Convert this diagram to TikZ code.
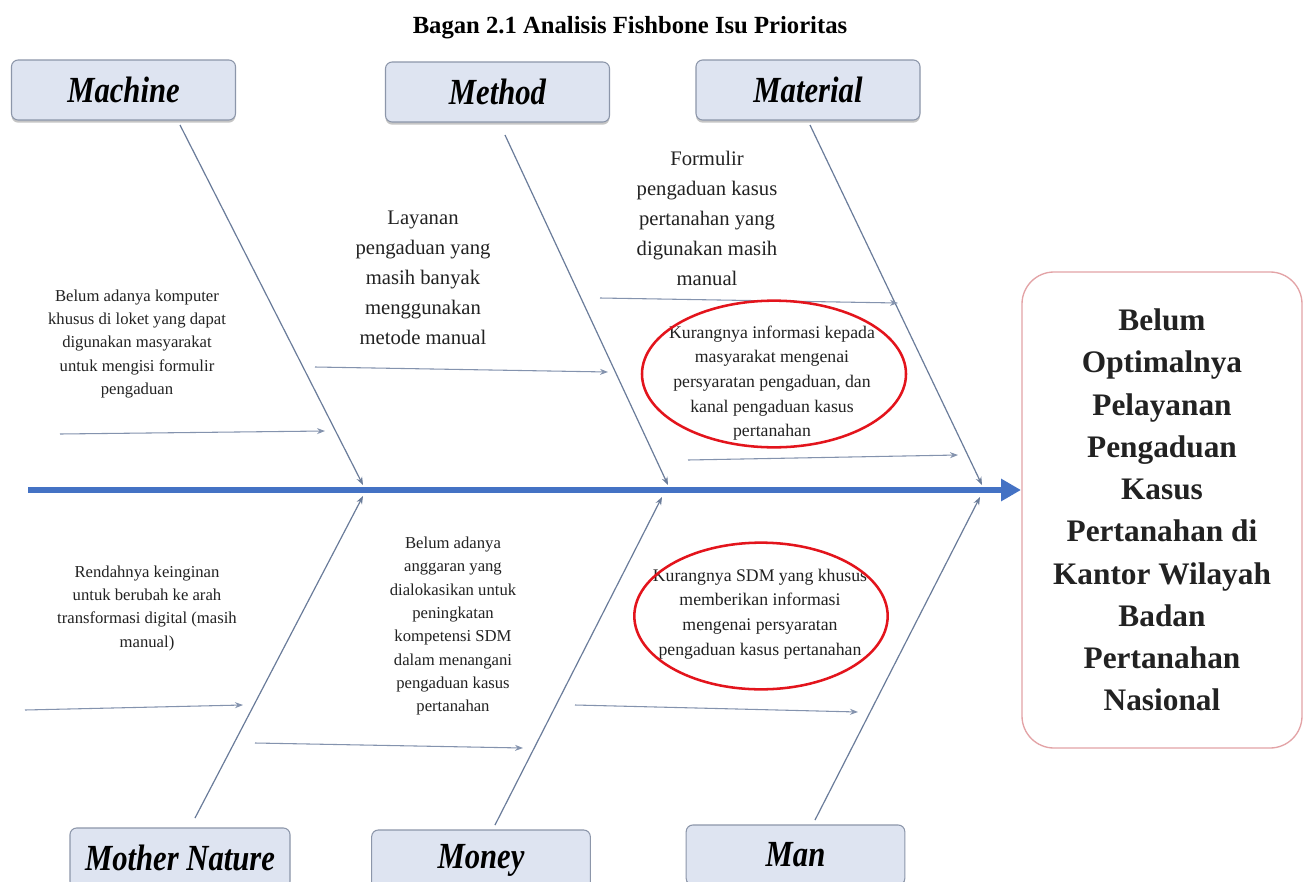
\documentclass[tikz,border=0pt]{standalone}
\usepackage{fontspec}
\setmainfont{Liberation Serif}
\usepackage{graphicx}
\usetikzlibrary{arrows.meta,shadows,shapes.geometric}
\definecolor{boxfill}{HTML}{DEE4F1}
\definecolor{boxline}{HTML}{8C96AA}
\definecolor{spine}{HTML}{4472C4}
\definecolor{bone}{HTML}{6A7C9A}
\definecolor{subarrow}{HTML}{8493AE}
\definecolor{effline}{HTML}{E3A3A6}
\definecolor{ringred}{HTML}{E3141C}
\definecolor{txt}{HTML}{222222}
\tikzset{
  catbox/.style={draw=boxline, line width=0.8pt, fill=boxfill, rounded corners=5pt,
    minimum width=168pt, minimum height=45pt, inner sep=0pt,
    drop shadow={shadow xshift=0pt, shadow yshift=-2pt, opacity=0.45, fill=gray},
    font=\fontsize{23}{26}\selectfont\bfseries\itshape},
  bonearrow/.style={draw=bone, line width=0.9pt, -{Stealth[length=6pt,width=4.5pt]}},
  subarr/.style={draw=subarrow, line width=0.8pt, -{Stealth[length=6pt,width=4.5pt]}},
  smalltxt/.style={align=center, text=txt, inner sep=0pt, font=\fontsize{12.5}{17.5}\selectfont},
  ringtxt/.style={align=center, text=txt, inner sep=0pt, font=\fontsize{13.3}{18.5}\selectfont},
  bigtxt/.style={align=center, text=txt, inner sep=0pt, font=\fontsize{15.5}{22.5}\selectfont},
  ring/.style={draw=ringred, line width=1.9pt, ellipse, inner sep=0pt}
}
\newcommand{\tall}[1]{\scalebox{1}[1.2]{#1}}
\begin{document}
\begin{tikzpicture}[x=0.75pt,y=-0.75pt]
\useasboundingbox (0,0) rectangle (1304,882);
\fill[white] (0,0) rectangle (1304,882);

% title
\node[font=\fontsize{18.5}{22}\selectfont\bfseries] (title) at (630,28) {Bagan 2.1 Analisis Fishbone Isu Prioritas};

% effect box
\node[draw=effline, line width=1pt, rounded corners=24pt, minimum width=210pt, minimum height=357pt,
  align=center, font=\fontsize{23.5}{31.7}\selectfont\bfseries, text=txt] (effect) at (1162,510)
  {Belum\\Optimalnya\\Pelayanan\\Pengaduan\\Kasus\\Pertanahan di\\Kantor Wilayah\\Badan\\Pertanahan\\Nasional};

% spine
\coordinate (tail) at (28,490);
\coordinate (head) at (1021,490);
\draw[spine, line width=4.6pt, -{Triangle[length=15pt,width=16pt]}] (tail) -- (head);

% category boxes
\node[catbox] (machine) at (123.5,90) {\tall{Machine}};
\node[catbox] (method) at (497.5,92) {\tall{Method}};
\node[catbox] (material) at (808,90) {\tall{Material}};
\node[catbox, minimum width=165pt] (nature) at (180,858) {\tall{Mother Nature}};
\node[catbox, minimum width=164pt] (money) at (481,860) {\tall{Money}};
\node[catbox, minimum width=164pt] (man) at (795.5,855) {\tall{Man}};

% bone coordinates
\coordinate (b1s) at (180,125);  \coordinate (b1e) at (363,485);
\coordinate (b2s) at (505,135);  \coordinate (b2e) at (668,485);
\coordinate (b3s) at (810,125);  \coordinate (b3e) at (982,485);
\coordinate (b4s) at (195,818);  \coordinate (b4e) at (363,496);
\coordinate (b5s) at (495,825);  \coordinate (b5e) at (662,497);
\coordinate (b6s) at (815,820);  \coordinate (b6e) at (980,497);
\draw[bonearrow] (b1s) -- (b1e);
\draw[bonearrow] (b2s) -- (b2e);
\draw[bonearrow] (b3s) -- (b3e);
\draw[bonearrow] (b4s) -- (b4e);
\draw[bonearrow] (b5s) -- (b5e);
\draw[bonearrow] (b6s) -- (b6e);

% sub arrows
\coordinate (s1s) at (60,434);   \coordinate (s1e) at (325,431);
\coordinate (s2s) at (315,367);  \coordinate (s2e) at (608,372);
\coordinate (s3s) at (600,298);  \coordinate (s3e) at (898,303);
\coordinate (s4s) at (688,460);  \coordinate (s4e) at (958,455);
\coordinate (s5s) at (25,710);   \coordinate (s5e) at (243,705);
\coordinate (s6s) at (255,743);  \coordinate (s6e) at (523,748);
\coordinate (s7s) at (575,705);  \coordinate (s7e) at (858,712);
\draw[subarr] (s1s) -- (s1e);
\draw[subarr] (s2s) -- (s2e);
\draw[subarr] (s3s) -- (s3e);
\draw[subarr] (s4s) -- (s4e);
\draw[subarr] (s5s) -- (s5e);
\draw[subarr] (s6s) -- (s6e);
\draw[subarr] (s7s) -- (s7e);

% cause texts
\node[smalltxt] (t1) at (137,344) {Belum adanya komputer\\khusus di loket yang dapat\\digunakan masyarakat\\untuk mengisi formulir\\pengaduan};
\node[bigtxt] (t2) at (423,278) {Layanan\\pengaduan yang\\masih banyak\\menggunakan\\metode manual};
\node[bigtxt] (t3) at (707,218) {Formulir\\pengaduan kasus\\pertanahan yang\\digunakan masih\\manual};
\node[ringtxt] (t4) at (772,383) {Kurangnya informasi kepada\\masyarakat mengenai\\persyaratan pengaduan, dan\\kanal pengaduan kasus\\pertanahan};
\node[smalltxt] (t5) at (147,608) {Rendahnya keinginan\\untuk berubah ke arah\\transformasi digital (masih\\manual)};
\node[smalltxt] (t6) at (453,626) {Belum adanya\\anggaran yang\\dialokasikan untuk\\peningkatan\\kompetensi SDM\\dalam menangani\\pengaduan kasus\\pertanahan};
\node[ringtxt] (t7) at (760,614) {Kurangnya SDM yang khusus\\memberikan informasi\\mengenai persyaratan\\pengaduan kasus pertanahan};

% red rings
\node[ring, minimum width=198pt, minimum height=110pt] (r1) at (774,374) {};
\node[ring, minimum width=190pt, minimum height=110pt] (r2) at (761,616) {};
\end{tikzpicture}
\end{document}
